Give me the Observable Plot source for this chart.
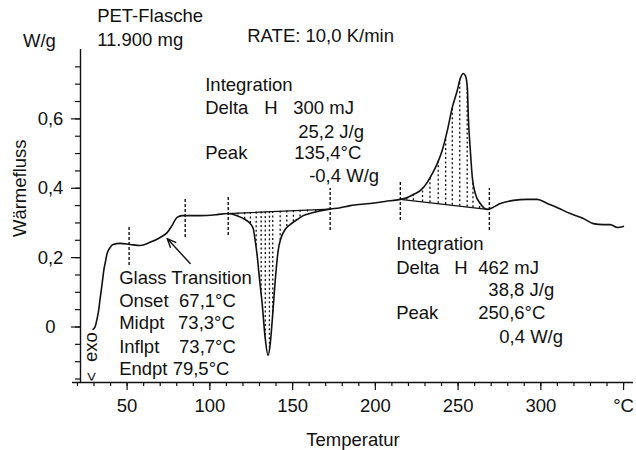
<!DOCTYPE html>
<html>
<head>
<meta charset="utf-8">
<script src="https://cdn.jsdelivr.net/npm/d3@7"></script>
<script src="https://cdn.jsdelivr.net/npm/@observablehq/plot@0.6"></script>
<style>
  html, body { margin: 0; padding: 0; background: #fff; }
  #chart svg { display: block; overflow: visible; }
</style>
</head>
<body>
<div id="chart"></div>
<script>
// ---- DSC curve (temperature °C, heat flow W/g) ----
const temps = [29.4,30.7,31.9,32.5,33.7,34.9,36.1,36.7,37.9,39.7,
  41.5,45.8,51.8,57.9,63.9,70.0,74.2,77.2,80.2,83.3,
  86.3,94.1,104.4,110.5,116.5,121.3,124.4,126.2,127.4,128.6,
  129.8,131.6,133.4,135.2,136.5,137.7,139.5,141.3,143.1,145.5,
  148.5,152.8,156.4,162.5,171.5,178.8,184.8,196.9,205.9,215.1,
  219.3,222.9,227.1,231.4,234.4,237.4,240.4,243.5,246.5,249.5,
  251.3,253.1,254.4,255.6,256.2,257.4,258.6,260.4,263.4,267.7,
  270.7,275.5,283.4,291.8,297.9,303.9,310.0,317.8,325.7,331.7,
  337.8,342.0,346.2,349.9];
const heatFlow = [-0.007,0.001,0.025,0.039,0.082,0.125,0.169,0.183,0.212,0.229,
  0.238,0.241,0.238,0.235,0.244,0.258,0.272,0.293,0.316,0.321,
  0.321,0.321,0.324,0.327,0.321,0.310,0.298,0.284,0.249,0.206,
  0.148,0.068,-0.030,-0.082,-0.048,0.019,0.134,0.221,0.258,0.281,
  0.295,0.310,0.321,0.330,0.339,0.344,0.350,0.356,0.362,0.368,
  0.373,0.382,0.393,0.417,0.442,0.471,0.509,0.566,0.633,0.682,
  0.716,0.731,0.725,0.690,0.604,0.509,0.431,0.385,0.356,0.339,
  0.344,0.356,0.365,0.368,0.368,0.356,0.344,0.327,0.313,0.298,
  0.295,0.295,0.287,0.290];

// integration baselines
const base1T = [110.5, 172.7], base1V = [0.327, 0.340];
const base2T = [215.1, 267.7], base2V = [0.368, 0.339];
// hatch positions (°C)
const hatch1T = [117, 121, 124.5, 128, 131, 133.5, 136, 138, 142.5, 146.5, 150.5, 154.5, 159, 164];
const hatch2T = [219, 223, 228.5, 233, 238, 242.5, 246.5, 251, 255.5, 259, 263];
// dashed limit markers
const markerT   = [51.2, 85.1, 111.1, 172.7, 215.1, 268.9];
const markerTop = [0.287, 0.370, 0.373, 0.399, 0.422, 0.399];
const markerBot = [0.177, 0.258, 0.264, 0.278, 0.307, 0.278];

// axis ticks
const xMajor = [50, 100, 150, 200, 250, 300, 350];
const xMinor = [20,30,40,50,60,70,80,90,100,110,120,130,140,150,160,170,180,190,200,210,220,230,240,250,260,270,280,290,300,310,320,330,340,350];
const yMajor = [0, 0.2, 0.4, 0.6];
const yMinor = [-0.15,-0.1,-0.05,0,0.05,0.1,0.15,0.2,0.25,0.3,0.35,0.4,0.45,0.5,0.55,0.6,0.65,0.7,0.75];
const xDomain = [17, 356], yDomain = [-0.16, 0.8];

// annotation texts (data coordinates, baseline-anchored)
const notes = [
  {text: "PET-Flasche", T: 31.9, v: 0.878},
  {text: "11.900 mg", T: 31.9, v: 0.811},
  {text: "W/g", T: -12.9, v: 0.808},
  {text: "RATE: 10,0 K/min", T: 122.6, v: 0.823},
  {text: "Integration", T: 97.2, v: 0.679},
  {text: "Delta", T: 97.2, v: 0.613},
  {text: "H", T: 132.8, v: 0.613},
  {text: "300 mJ", T: 150.4, v: 0.613},
  {text: "25,2 J/g", T: 153.4, v: 0.546},
  {text: "Peak", T: 97.2, v: 0.483},
  {text: "135,4°C", T: 151.0, v: 0.483},
  {text: "-0,4 W/g", T: 160.0, v: 0.419},
  {text: "Glass Transition", T: 45.2, v: 0.125},
  {text: "Onset", T: 45.2, v: 0.059},
  {text: "67,1°C", T: 81.4, v: 0.059},
  {text: "Midpt", T: 45.2, v: -0.007},
  {text: "73,3°C", T: 80.8, v: -0.007},
  {text: "Inflpt", T: 45.2, v: -0.074},
  {text: "73,7°C", T: 81.4, v: -0.074},
  {text: "Endpt 79,5°C", T: 45.2, v: -0.137},
  {text: "Integration", T: 212.6, v: 0.221},
  {text: "Delta", T: 212.6, v: 0.154},
  {text: "H", T: 247.7, v: 0.154},
  {text: "462 mJ", T: 262.2, v: 0.154},
  {text: "38,8 J/g", T: 268.3, v: 0.088},
  {text: "Peak", T: 212.6, v: 0.022},
  {text: "250,6°C", T: 262.2, v: 0.022},
  {text: "0,4 W/g", T: 274.9, v: -0.045}
];
const arrowFrom = {T: 88.1, v: 0.183}, arrowTo = {T: 74.2, v: 0.255};

function interp(xs, ys, t) {
  for (let i = 0; i < xs.length - 1; i++) {
    if (t >= xs[i] && t <= xs[i + 1]) {
      const f = (t - xs[i]) / (xs[i + 1] - xs[i]);
      return ys[i] + f * (ys[i + 1] - ys[i]);
    }
  }
  return t < xs[0] ? ys[0] : ys[ys.length - 1];
}

const curve = temps.map((T, i) => ({T, v: heatFlow[i]}));
const markers = markerT.map((T, i) => ({T, top: markerTop[i], bot: markerBot[i]}));
const hatch1 = hatch1T.map(T => ({T, b: interp(base1T, base1V, T), c: interp(temps, heatFlow, T)}));
const hatch2 = hatch2T.map(T => ({T, b: interp(base2T, base2V, T), c: interp(temps, heatFlow, T)}));
const fmtY = d => d === 0 ? "0" : d3.format(".1f")(d).replace(".", ",");
const ink = "#111";
const fs = 18.5;

const chart = Plot.plot({
  width: 636, height: 450,
  marginLeft: 72, marginRight: 3, marginTop: 49, marginBottom: 68,
  x: {domain: xDomain, label: null},
  y: {domain: yDomain, label: null},
  style: {fontFamily: "'Liberation Sans', Arial, Helvetica, sans-serif", fontSize: fs + "px", color: ink, background: "white", overflow: "visible"},
  marks: [
    // axes lines
    Plot.ruleY([yDomain[0]], {x1: xDomain[0], x2: xDomain[1], stroke: ink, strokeWidth: 1.4}),
    Plot.ruleX([xDomain[0]], {y1: yDomain[0], y2: yDomain[1], dx: 8, stroke: ink, strokeWidth: 1.4}),
    // x ticks
    Plot.axisX(xMinor, {anchor: "bottom", tickSize: 4, tickFormat: () => "", label: null, stroke: ink, strokeWidth: 1.2}),
    Plot.axisX(xMajor, {anchor: "bottom", tickSize: 8, tickPadding: 8, label: null, stroke: ink, strokeWidth: 1.2, fontSize: fs,
      tickFormat: d => d === 350 ? "°C" : String(d)}),
    // y ticks
    Plot.axisY(yMinor, {anchor: "left", tickSize: 5, dx: 8, tickFormat: () => "", label: null, stroke: ink, strokeWidth: 1.2}),
    Plot.axisY(yMajor, {anchor: "left", tickSize: 9, dx: 8, tickFormat: () => "", label: null, stroke: ink, strokeWidth: 1.2}),
    Plot.text(yMajor, {x: xDomain[0], y: d => d, text: fmtY, dx: -22, textAnchor: "middle", lineAnchor: "middle", fontSize: fs, fill: ink}),
    // axis titles
    Plot.text(["Temperatur"], {frameAnchor: "bottom", dy: 50, text: d => d, fontSize: fs, fill: ink, lineAnchor: "top"}),
    Plot.text(["Wärmefluss"], {x: -14.7, y: 0.4, text: d => d, rotate: -90, fontSize: fs, fill: ink, textAnchor: "middle", lineAnchor: "middle"}),
    Plot.text(["exo"], {x: 28.5, y: -0.058, text: d => d, rotate: -90, fontSize: fs, fill: ink, textAnchor: "middle", lineAnchor: "middle"}),
    Plot.text(["<"], {x: 28.5, y: -0.143, text: d => d, rotate: -90, fontSize: 16, fill: ink, textAnchor: "middle", lineAnchor: "middle"}),
    // hatching
    Plot.ruleX(hatch1, {x: "T", y1: "b", y2: "c", stroke: ink, strokeWidth: 1.3, strokeDasharray: "2,2.5"}),
    Plot.ruleX(hatch2, {x: "T", y1: "b", y2: "c", stroke: ink, strokeWidth: 1.3, strokeDasharray: "2,2.5"}),
    // integration baselines
    Plot.line(base1T.map((T, i) => ({T, v: base1V[i]})), {x: "T", y: "v", stroke: ink, strokeWidth: 1.3}),
    Plot.line(base2T.map((T, i) => ({T, v: base2V[i]})), {x: "T", y: "v", stroke: ink, strokeWidth: 1.3}),
    // dashed markers
    Plot.ruleX(markers, {x: "T", y1: "bot", y2: "top", stroke: ink, strokeWidth: 1.4, strokeDasharray: "3,2"}),
    // the curve
    Plot.line(curve, {x: "T", y: "v", stroke: ink, strokeWidth: 1.6, curve: "monotone-x"}),
    // arrow
    Plot.arrow([0], {x1: arrowFrom.T, y1: arrowFrom.v, x2: arrowTo.T, y2: arrowTo.v, stroke: ink, strokeWidth: 1.4, headLength: 10, headAngle: 45}),
    // annotations
    Plot.text(notes, {x: "T", y: "v", text: "text", textAnchor: "start", lineAnchor: "bottom", fontSize: fs, fill: ink})
  ]
});
document.getElementById("chart").appendChild(chart);
</script>
</body>
</html>
